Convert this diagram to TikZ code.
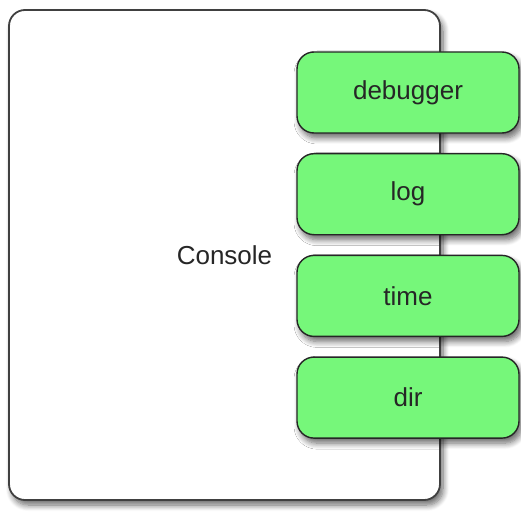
\documentclass[tikz,border=0pt]{standalone}
\usepackage{fontspec}
\setmainfont{Liberation Sans}
\usetikzlibrary{positioning,shadows.blur}
\definecolor{callgreen}{RGB}{118,247,122}
\begin{document}
\begin{tikzpicture}[
     x = 1pt, y = 1pt,
     font = \fontsize{26}{30}\selectfont,
     text = black!85,
     shade/.style = {blur shadow={shadow xshift=3pt, shadow yshift=-5pt,
        shadow blur steps=8, shadow blur radius=6pt, shadow opacity=60}}
    ]
    \tikzstyle{console}=[draw=black!75, line width=1.8pt, fill=white,
       rounded corners=16pt, minimum width=431pt, minimum height=490pt, shade]
    \tikzstyle{call}=[draw=black!85, line width=1.4pt, fill=callgreen,
       rounded corners=17pt, minimum width=222pt, minimum height=81pt, shade]

    \useasboundingbox (0,0) rectangle (521,512);

    \node[console] (console) at (224.5,257) {Console};

    \node[call] (debugger) at (408,419.5) {debugger};
    \node[call, below of = debugger, node distance = 101.7pt] (log) {log};
    \node[call, below of = log, node distance = 101.7pt] (time) {time};
    \node[call, below of = time, node distance = 101.7pt] (dir) {dir};
   \end{tikzpicture}
\end{document}
